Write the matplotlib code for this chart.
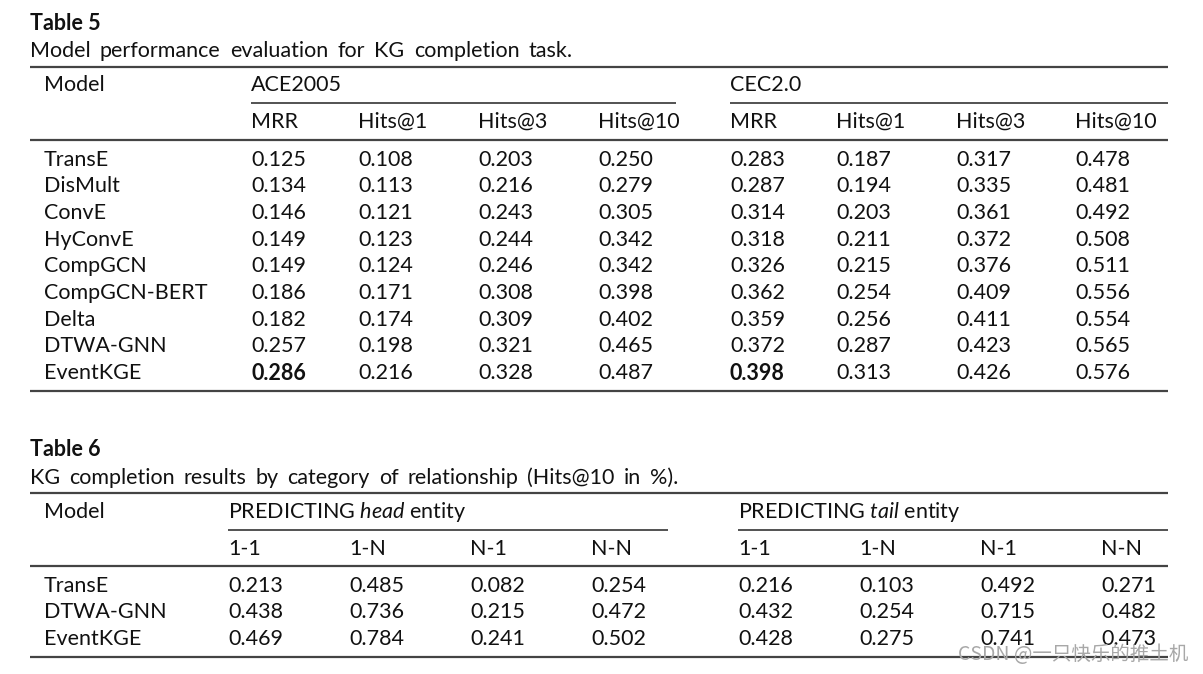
import matplotlib
matplotlib.use("Agg")
import matplotlib.pyplot as plt
from matplotlib import font_manager

# ---------------- data ----------------
models5 = ["TransE", "DisMult", "ConvE", "HyConvE", "CompGCN", "CompGCN-BERT",
           "Delta", "DTWA-GNN", "EventKGE"]
metrics5 = ["MRR", "Hits@1", "Hits@3", "Hits@10"]
ace2005 = [
    [0.125, 0.108, 0.203, 0.250],
    [0.134, 0.113, 0.216, 0.279],
    [0.146, 0.121, 0.243, 0.305],
    [0.149, 0.123, 0.244, 0.342],
    [0.149, 0.124, 0.246, 0.342],
    [0.186, 0.171, 0.308, 0.398],
    [0.182, 0.174, 0.309, 0.402],
    [0.257, 0.198, 0.321, 0.465],
    [0.286, 0.216, 0.328, 0.487],
]
cec20 = [
    [0.283, 0.187, 0.317, 0.478],
    [0.287, 0.194, 0.335, 0.481],
    [0.314, 0.203, 0.361, 0.492],
    [0.318, 0.211, 0.372, 0.508],
    [0.326, 0.215, 0.376, 0.511],
    [0.362, 0.254, 0.409, 0.556],
    [0.359, 0.256, 0.411, 0.554],
    [0.372, 0.287, 0.423, 0.565],
    [0.398, 0.313, 0.426, 0.576],
]
bold5 = [(8, 0)]  # (row, col) cells shown in bold in each dataset block

models6 = ["TransE", "DTWA-GNN", "EventKGE"]
relations6 = ["1-1", "1-N", "N-1", "N-N"]
head_entity = [
    [0.213, 0.485, 0.082, 0.254],
    [0.438, 0.736, 0.215, 0.472],
    [0.469, 0.784, 0.241, 0.502],
]
tail_entity = [
    [0.216, 0.103, 0.492, 0.271],
    [0.432, 0.254, 0.715, 0.482],
    [0.428, 0.275, 0.741, 0.473],
]

caption5 = "Model performance evaluation for KG completion task."
caption6 = "KG completion results by category of relationship (Hits@10 in %)."

# ---------------- fonts ----------------
available = {f.name for f in font_manager.fontManager.ttflist}
FONT = "Lato" if "Lato" in available else "DejaVu Sans"
plt.rcParams["font.family"] = [FONT, "DejaVu Sans"]
plt.rcParams["mathtext.fontset"] = "custom"
plt.rcParams["mathtext.it"] = f"{FONT}:italic"
plt.rcParams["mathtext.rm"] = FONT

W, H = 1203, 674
fig = plt.figure(figsize=(W / 100, H / 100), dpi=100)
ax = fig.add_axes([0, 0, 1, 1])
ax.set_xlim(0, W)
ax.set_ylim(H, 0)
ax.axis("off")
renderer = fig.canvas.get_renderer()

FS = 15.5
TXT = "#111111"
RULE = "#444444"
DY = 2  # vertical text offset


def t(x, y, s, **kw):
    kw.setdefault("fontsize", FS)
    kw.setdefault("color", TXT)
    return ax.text(x, y + DY, s, ha="left", va="center", **kw)


def justified(x0, x1, y, s):
    words = s.split(" ")
    objs = [t(x0, y, w) for w in words]
    widths = [o.get_window_extent(renderer).width for o in objs]
    gap = (x1 - x0 - sum(widths)) / (len(words) - 1)
    x = x0
    for o, w in zip(objs, widths):
        o.set_x(x)
        x += w + gap


def rule(x0, x1, y, lw=1.6):
    ax.plot([x0, x1], [y, y], color=RULE, lw=lw, solid_capstyle="butt")


# ---------------- Table 5 ----------------
t(30, 21, "Table 5", fontweight="bold")
justified(30, 573, 49, caption5)
rule(30, 1168, 67)
t(44, 83, "Model")
t(251, 83, "ACE2005")
t(730, 83, "CEC2.0")
rule(251, 676, 103, lw=1.3)
rule(730, 1168, 103, lw=1.3)
cols_ace = [251, 358, 478, 598]
cols_cec = [730, 836, 956, 1075]
for x, m in zip(cols_ace, metrics5):
    t(x, 120, m)
for x, m in zip(cols_cec, metrics5):
    t(x, 120, m)
rule(30, 1168, 140)
y0, dy = 157.5, 26.7
for i, name in enumerate(models5):
    y = y0 + i * dy
    t(44, y, name)
    for j in range(4):
        w = "bold" if (i, j) in bold5 else "normal"
        t(cols_ace[j], y, f"{ace2005[i][j]:.3f}", fontweight=w)
        t(cols_cec[j], y, f"{cec20[i][j]:.3f}", fontweight=w)
rule(30, 1168, 391)

# ---------------- Table 6 ----------------
t(30, 448, "Table 6", fontweight="bold")
justified(30, 678, 476, caption6)
rule(30, 1168, 493)
t(44, 510, "Model")
t(228, 510, r"PREDICTING $\it{head}$ entity")
t(738, 510, r"PREDICTING $\it{tail}$ entity")
rule(228, 668, 530, lw=1.3)
rule(738, 1168, 530, lw=1.3)
cols_head = [228, 349, 470, 591]
cols_tail = [738, 859, 980, 1101]
for x, r in zip(cols_head, relations6):
    t(x, 547, r)
for x, r in zip(cols_tail, relations6):
    t(x, 547, r)
rule(30, 1168, 566)
y0, dy = 584, 26.5
for i, name in enumerate(models6):
    y = y0 + i * dy
    t(44, y, name)
    for j in range(4):
        t(cols_head[j], y, f"{head_entity[i][j]:.3f}")
        t(cols_tail[j], y, f"{tail_entity[i][j]:.3f}")
rule(30, 1168, 657)

# watermark
ax.text(1188, 655, "CSDN @一只快乐的推土机", ha="right", va="center", fontsize=14,
        color="#a8a8a8", family=["Noto Sans CJK SC", "DejaVu Sans"])

fig.savefig("out.png", dpi=100)
